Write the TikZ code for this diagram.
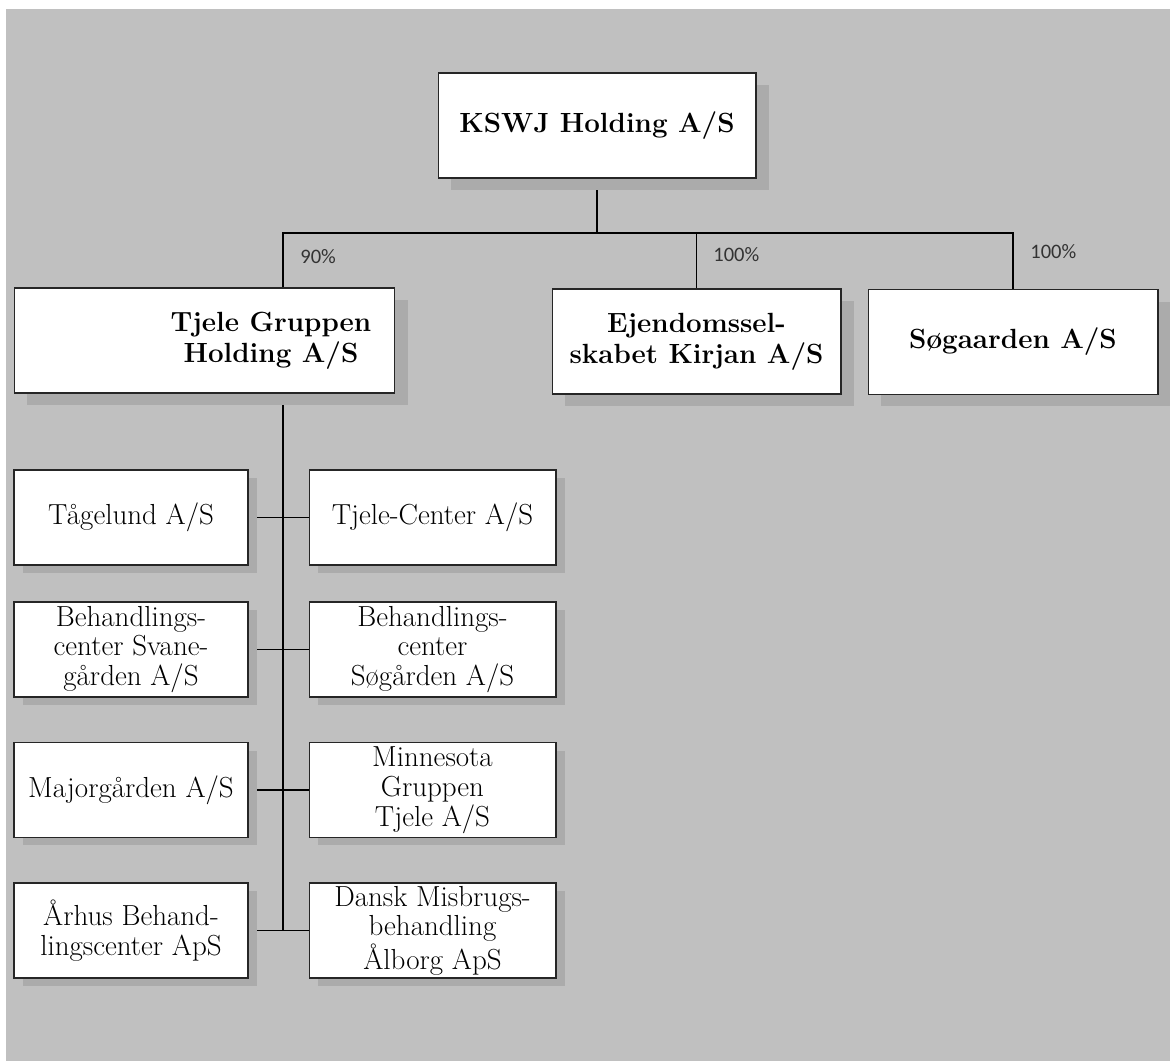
\documentclass[tikz,border=0pt]{standalone}
\usepackage{fontspec}
\newfontfamily\pctfont{Carlito}
\usetikzlibrary{shadows,backgrounds}

\definecolor{bggray}{HTML}{C0C0C0}
\definecolor{shadowgray}{HTML}{ABABAB}

\tikzset{
  topbox/.style={draw=black!85, fill=white, line width=0.6pt, inner sep=0pt,
    minimum height=2.1cm, align=center, font=\fontsize{15.8}{17.5}\selectfont\bfseries,
    drop shadow={shadow xshift=0.26cm, shadow yshift=-0.24cm, fill=shadowgray, opacity=1}},
  subbox/.style={draw=black!85, fill=white, line width=0.6pt, inner sep=0pt,
    minimum height=1.9cm, align=center, font=\fontsize{16.5}{17}\selectfont,
    drop shadow={shadow xshift=0.18cm, shadow yshift=-0.16cm, fill=shadowgray, opacity=1}},
  pct/.style={font=\pctfont\fontsize{11.7}{13}\selectfont, text=black!80, anchor=west, inner sep=0pt},
  link/.style={line width=0.6pt, black}
}

\begin{document}
\begin{tikzpicture}[x=0.02cm, y=-0.02cm]
        \useasboundingbox (0,0) rectangle (1170,1061);

        % owners
        \node[topbox, minimum width=6.36cm] (kswj) at (597,125.5) {KSWJ Holding A/S};
        \node[topbox, minimum width=7.62cm] (tjg) at (204.5,340.5) {};
        \node[font=\fontsize{15.8}{17.5}\selectfont\bfseries, align=center] (tjgtxt) at (271,340.5) {Tjele Gruppen\\Holding A/S};
        \node[topbox, minimum width=5.78cm] (ejd) at (696.5,341.5) {Ejendomssel-\\skabet Kirjan A/S};
        \node[topbox, minimum width=5.8cm] (sog) at (1013,342) {Søgaarden A/S};

        \node[pct] (p90) at (300,257) {90\%};
        \node[pct] (p100a) at (713,255) {100\%};
        \node[pct] (p100b) at (1030,252) {100\%};

        % subsidiaries
        \foreach \i/\y/\ltxt/\rtxt in {
            1/517.5/{Tågelund A/S}/{Tjele-Center A/S},
            2/649.5/{Behandlings-\\center Svane-\\gården A/S}/{Behandlings-\\center\\Søgården A/S},
            3/790/{Majorgården A/S}/{Minnesota\\Gruppen\\ Tjele A/S},
            4/930.5/{Århus Behand-\\lingscenter ApS}/{Dansk Misbrugs-\\behandling\\Ålborg ApS}}
        {
            \node[subbox, minimum width=4.68cm] (a\i) at (131,\y) {\ltxt};
            \node[subbox, minimum width=4.94cm] (b\i) at (432.5,\y) {\rtxt};
        }

        \coordinate (bar) at (597,233);
        \coordinate (t90) at (283,288);
        \coordinate (trunk) at (283,393);

        \begin{scope}[on background layer]
            \fill[white] (0,0) rectangle (1170,1061);
            \fill[bggray] (6,9) rectangle (1170,1061);
            \draw[link] (kswj.south) -- (bar);
            \draw[link] (t90) |- (bar) -| (sog.north);
            \draw[link] (ejd.north) -- (ejd.north |- bar);
            \draw[link] (trunk) -- (trunk |- a4.east);
            \foreach \i in {1,...,4} \draw[link] (a\i.east) -- (b\i.west);
        \end{scope}
    \end{tikzpicture}
\end{document}
